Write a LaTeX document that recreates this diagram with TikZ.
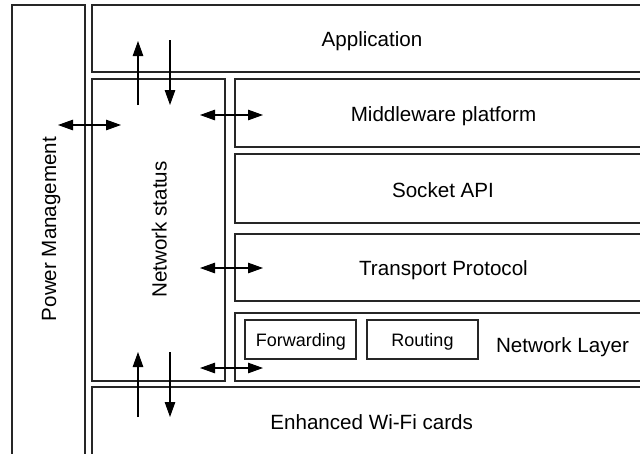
\documentclass[tikz,border=0pt]{standalone}
\usepackage{fontspec}
\setmainfont{Liberation Sans}
\usetikzlibrary{arrows.meta}
\begin{document}
\begin{tikzpicture}[x=1pt,y=-1pt,
  box/.style={draw=black!85, line width=1.2pt, inner sep=0pt, outer sep=0pt, anchor=north west},
  lbl/.style={font=\fontsize{20.6}{24}\selectfont, anchor=base, inner sep=0pt},
  small/.style={font=\fontsize{18}{22}\selectfont, anchor=base, inner sep=0pt},
  arr/.style={line width=1.1pt, draw=black, -{Triangle[length=15pt,width=10.5pt]}},
  darr/.style={line width=1.1pt, draw=black, {Triangle[length=15pt,width=10.5pt]}-{Triangle[length=15pt,width=10.5pt]}},
]
\useasboundingbox (0,0) rectangle (640,453);
\clip (0,0) rectangle (640,453);
% boxes
\node[box, minimum width=73pt, minimum height=480pt] (pm) at (12,5) {};
\node[box, minimum width=570pt, minimum height=67pt] (app) at (92,5) {};
\node[box, minimum width=133pt, minimum height=302pt] (ns) at (92,79) {};
\node[box, minimum width=430pt, minimum height=68pt] (mw) at (235,79) {};
\node[box, minimum width=430pt, minimum height=69pt] (sock) at (235,154) {};
\node[box, minimum width=430pt, minimum height=67pt] (tp) at (235,234) {};
\node[box, minimum width=430pt, minimum height=68pt] (nl) at (235,313) {};
\node[box, minimum width=570pt, minimum height=100pt] (wifi) at (92,387) {};
\node[box, minimum width=111pt, minimum height=39pt] (fw) at (245,320) {};
\node[box, minimum width=111pt, minimum height=39pt] (rt) at (367,320) {};
% labels
\node[lbl] (appt) at (372,46.7) {Application};
\node[lbl] (mwt) at (443.5,121.7) {Middleware platform};
\node[lbl] (sockt) at (443,197.3) {Socket API};
\node[lbl] (tpt) at (443.5,275) {Transport Protocol};
\node[lbl] (nlt) at (562.5,352.3) {Network Layer};
\node[lbl] (wifit) at (371.7,429) {Enhanced Wi-Fi cards};
\node[small] (fwt) at (301,346) {Forwarding};
\node[small] (rtt) at (422.5,346) {Routing};
\node[lbl, rotate=90] (pmt) at (56,229) {Power Management};
\node[lbl, rotate=90] (nst) at (166.7,229.5) {Network status};
% arrow end points
\coordinate (u1s) at (138,105); \coordinate (u1e) at (138,41);
\coordinate (d1s) at (170,40);  \coordinate (d1e) at (170,105);
\coordinate (h1a) at (58,125);  \coordinate (h1b) at (121,125);
\coordinate (h2a) at (200,115); \coordinate (h2b) at (263,115);
\coordinate (h3a) at (200,268); \coordinate (h3b) at (263,268);
\coordinate (h4a) at (200,368); \coordinate (h4b) at (263,368);
\coordinate (u2s) at (138,417); \coordinate (u2e) at (138,352);
\coordinate (d2s) at (170,352); \coordinate (d2e) at (170,417);
% arrows
\draw[arr] (u1s) -- (u1e);
\draw[arr] (d1s) -- (d1e);
\draw[darr] (h1a) -- (h1b);
\draw[darr] (h2a) -- (h2b);
\draw[darr] (h3a) -- (h3b);
\draw[darr] (h4a) -- (h4b);
\draw[arr] (u2s) -- (u2e);
\draw[arr] (d2s) -- (d2e);
\end{tikzpicture}
\end{document}
